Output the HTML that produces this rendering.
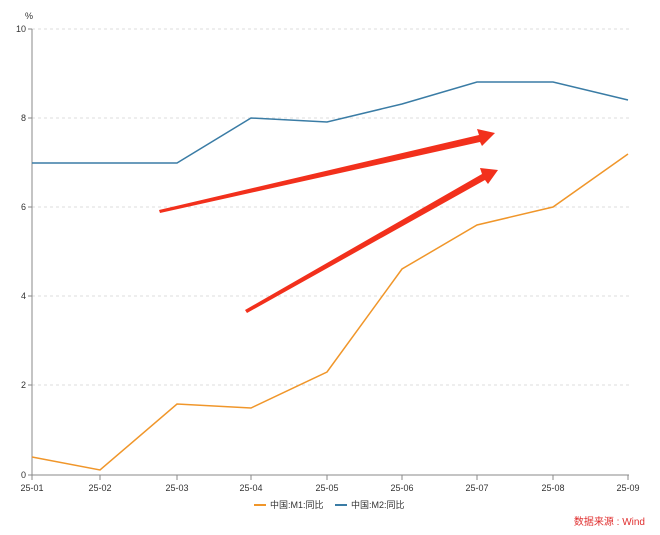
<!DOCTYPE html>
<html><head><meta charset="utf-8"><style>
body{margin:0;background:#fff}
svg{display:block;font-family:"Liberation Sans","Noto Sans CJK SC",sans-serif}
</style></head><body>
<svg width="660" height="535" viewBox="0 0 660 535">
<g stroke="#ddd" stroke-dasharray="3,3" stroke-width="1">
<line x1="32" x2="630" y1="29" y2="29"/><line x1="32" x2="630" y1="118" y2="118"/>
<line x1="32" x2="630" y1="207" y2="207"/><line x1="32" x2="630" y1="296" y2="296"/>
<line x1="32" x2="630" y1="385" y2="385"/>
</g>
<g stroke="#888" stroke-width="1" fill="none">
<line x1="32" y1="29" x2="32" y2="475"/><line x1="32" y1="475" x2="629" y2="475"/>
<line x1="28" y1="29" x2="32" y2="29"/><line x1="28" y1="118" x2="32" y2="118"/><line x1="28" y1="207" x2="32" y2="207"/><line x1="28" y1="296" x2="32" y2="296"/><line x1="28" y1="385" x2="32" y2="385"/><line x1="28" y1="475" x2="32" y2="475"/>
<line x1="32" y1="475" x2="32" y2="480"/><line x1="100" y1="475" x2="100" y2="480"/><line x1="177" y1="475" x2="177" y2="480"/><line x1="251" y1="475" x2="251" y2="480"/><line x1="327" y1="475" x2="327" y2="480"/><line x1="402" y1="475" x2="402" y2="480"/><line x1="477" y1="475" x2="477" y2="480"/><line x1="553" y1="475" x2="553" y2="480"/><line x1="628" y1="475" x2="628" y2="480"/>
</g>
<g font-size="9" fill="#333" text-anchor="end">
<text x="33" y="19">%</text>
<text x="26" y="32">10</text><text x="26" y="121">8</text><text x="26" y="210">6</text><text x="26" y="299">4</text><text x="26" y="388">2</text><text x="26" y="478">0</text>
</g>
<g font-size="9" fill="#333" text-anchor="middle">
<text x="32" y="491">25-01</text><text x="100" y="491">25-02</text><text x="177" y="491">25-03</text><text x="251" y="491">25-04</text><text x="327" y="491">25-05</text><text x="402" y="491">25-06</text><text x="477" y="491">25-07</text><text x="553" y="491">25-08</text><text x="628" y="491">25-09</text>
</g>
<polyline fill="none" stroke="#3a7ca5" stroke-width="1.5" points="32,163 100,163 177,163 251,118 327,122 402,104 477,82 553,82 628,100"/>
<polyline fill="none" stroke="#f0962a" stroke-width="1.5" points="32,457 100,470 177,404 251,408 327,372 402,269 477,225 553,207 628,154"/>
<polygon fill="#f2301c" points="159,210 160,213 480,142 482,146 495,133 477,129 479,135"/>
<polygon fill="#f2301c" points="245,310 247,313 485,180 488,184 498,170 480,168 482,174"/>
<line x1="254" y1="505" x2="266" y2="505" stroke="#f0962a" stroke-width="2"/>
<text x="270" y="508" font-size="9" fill="#333">中国:M1:同比</text>
<line x1="335" y1="505" x2="347" y2="505" stroke="#3a7ca5" stroke-width="2"/>
<text x="351" y="508" font-size="9" fill="#333">中国:M2:同比</text>
<text x="645" y="525" font-size="10" fill="#e03030" text-anchor="end">数据来源 : Wind</text>
</svg>
</body></html>
